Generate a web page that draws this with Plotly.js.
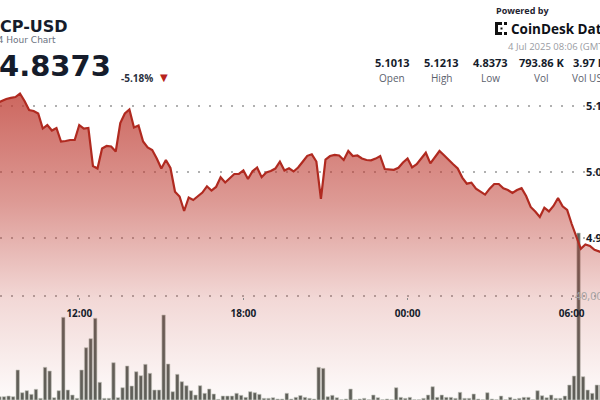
<!DOCTYPE html>
<html><head><meta charset="utf-8">
<script src="https://cdn.plot.ly/plotly-3.0.1.min.js"></script>
<style>html,body{margin:0;padding:0;overflow:hidden;background:#fff}#chart{width:600px;height:400px}</style>
</head><body><div id="chart"></div>
<script>
// ---- data ----
const START_UTC = Date.UTC(2025, 6, 3, 9, 0, 0); // first 10-minute point
const STEP_MIN = 10;
const price = [
 5.1045,5.1076,5.1106,5.1124,5.1136,5.1189,5.1076,5.0939,5.0924,5.0886,
 5.0659,5.0712,5.0629,5.0667,5.0462,5.0470,5.0485,5.0485,5.0712,5.0659,
 5.0667,5.0091,5.0053,5.0356,5.0394,5.0386,5.0311,5.0742,5.0886,5.0947,
 5.0674,5.0705,5.0462,5.0371,5.0333,5.0205,5.0053,5.0182,5.0061,4.9702,
 4.9629,4.9409,4.9614,4.9576,4.9629,4.9689,4.9783,4.9718,4.9773,4.9920,
 4.9841,4.9903,4.9970,4.9970,5.0023,4.9894,5.0011,5.0068,4.9921,4.9992,
 5.0015,5.0052,5.0156,5.0023,5.0055,5.0008,5.0068,5.0155,5.0245,5.0268,
 5.0159,4.9591,5.0189,5.0242,5.0258,5.0250,5.0182,5.0318,5.0242,5.0250,
 5.0205,5.0182,5.0176,5.0203,5.0242,5.0045,5.0035,5.0033,5.0064,5.0144,
 5.0205,5.0071,5.0117,5.0200,5.0292,5.0130,5.0227,5.0318,5.0253,5.0177,
 5.0117,5.0053,4.9915,4.9823,4.9838,4.9748,4.9697,4.9658,4.9747,4.9818,
 4.9818,4.9752,4.9727,4.9682,4.9727,4.9755,4.9636,4.9470,4.9402,4.9318,
 4.9459,4.9402,4.9485,4.9606,4.9480,4.9424,4.9212,4.9015,4.8836,4.8902,
 4.8879,4.8821,4.8795,4.8773
];
const volume = [
 1270,1270,1540,1270,11540,2810,3580,2190,4120,650,
 12580,11150,880,3580,31810,3850,1920,650,11540,20120,
 23580,31420,6810,650,650,14350,880,4730,13080,5380,
 10880,9350,13730,10270,3850,3850,32690,13850,3190,9880,
 7040,5500,3580,1920,5500,2580,4230,2310,270,1540,
 1540,1540,2580,1810,1040,3190,2810,2190,650,650,
 880,380,380,2580,380,1040,1730,1040,650,380,
 12580,12190,1270,1810,880,120,380,4230,120,380,
 650,120,1920,880,120,380,120,4730,1040,650,
 1040,120,120,650,1920,5120,1040,1920,1040,1040,
 650,2960,650,650,2310,380,120,2810,380,120,
 1540,120,1040,380,650,1040,1040,120,3580,1650,
 880,1920,650,650,1540,5770,9230,64230,8960,3850,
 2580,5770,5770,4620
];
const priceTicks = [4.9, 5.0, 5.1];
const volTicks = [40000];
const timeTicks = ['2025-07-03 12:00','2025-07-03 18:00','2025-07-04 00:00','2025-07-04 06:00'];
const timeTickText = ['12:00','18:00','00:00','06:00'];
const xRange = ['2025-07-03 09:06:11','2025-07-04 07:02:02'];
const statValues = ['5.1013','5.1213','4.8373','793.86 K','3.97 M'];
const statLabels = ['Open','High','Low','Vol','Vol USD'];
const pairName = 'ICP-USD';
const subTitle = '24 Hour Chart';
const lastPrice = '4.8373';
const changePct = '-5.18%';
const stamp = '4 Jul 2025 08:06 (GMT)';

// ---- helpers ----
const fmt = ms => new Date(ms).toISOString().slice(0,19).replace('T',' ');
const times = price.map((_, i) => fmt(START_UTC + i*STEP_MIN*60000));
const barTimes = volume.map((_, i) => fmt(START_UTC + (i*STEP_MIN + STEP_MIN/2)*60000));

const W = 600, H = 400, T = 85;
const px = x => x / W;
const py = y => (H - y) / (H - T);
const PMIN = 5.1 - 294/660, PMAX = 5.1 + 21/660;
const VMAX = 40000 * (H - T) / 104;

const DARK = '#151c2b';
const traces = [
 {type:'bar', x: barTimes, y: volume, yaxis:'y', xaxis:'x',
  marker:{color:'rgb(92,96,90)', line:{color:'rgba(200,204,198,0.9)', width:0.7}},
  hoverinfo:'skip'},
 {type:'scatter', mode:'lines', x: times, y: price, yaxis:'y2', xaxis:'x',
  line:{color:'#b02a20', width:2.2, shape:'linear'},
  fill:'tozeroy',
  fillgradient:{type:'vertical', start:PMIN, stop:PMAX,
    colorscale:[[0,'rgba(190,60,50,0.02)'],[0.32,'rgba(190,60,50,0.2)'],[0.63,'rgba(190,60,50,0.52)'],[1,'rgba(190,60,50,0.8)']]},
  hoverinfo:'skip'}
];

const ann = [];
function A(text, x, y, size, opts){ ann.push(Object.assign({text, xref:'paper', yref:'paper', x:px(x), y:py(y), xanchor:'left', yanchor:'middle', showarrow:false, font:{size, color:DARK, family:'Open Sans'}}, opts||{})); }
A(pairName, -8, 27, 16, {font:{family:'DejaVu Sans', size:16, weight:'bold', color:DARK}});
A(subTitle, -10, 40, 9, {font:{family:'DejaVu Sans', size:9, color:'#6b7280'}});
A(lastPrice, -3, 66, 29, {font:{family:'DejaVu Sans', size:29, weight:'bold', color:DARK}});
A(changePct, 119, 78, 10, {font:{family:'Open Sans', size:10, weight:'bold', color:'#2a3140'}});
A('▼', 158, 77, 10, {font:{family:'DejaVu Sans', size:10, color:'#b8231c'}});
A('Powered by', 494, 10.5, 9, {font:{family:'Open Sans', size:9, weight:'bold', color:'#1f2430'}});
A('CoinDesk Data', 509, 29, 13.5, {font:{family:'Open Sans', size:13.5, weight:'bold', color:'#0e1117'}});
A(stamp, 506, 47, 9.5, {font:{family:'Open Sans', size:9.5, color:'#9a9ca3'}});
const centers = [392, 441, 490, 541, 590];
statValues.forEach((v,k)=>{
  A(v, centers[k], 62, 11, {xanchor:'center', font:{family:'Open Sans', size:11, weight:'bold', color:DARK}});
  A(statLabels[k], centers[k], 77.5, 10, {xanchor:'center', font:{family:'Open Sans', size:10, color:'#5b616d'}});
});

// CoinDesk logo glyph
const logoRects = [[495,22,498,35],[495,22,502,25],[495,32,502,35],[504,22,507,25],[504,32,507,35],[500.5,27.5,502.5,29.5]];
const shapes = logoRects.map(r=>({type:'rect', xref:'paper', yref:'paper', x0:px(r[0]), x1:px(r[2]), y0:py(r[1]), y1:py(r[3]), fillcolor:'#111', line:{width:0}}));

const layout = {
 width:W, height:H, margin:{l:0, r:0, t:T, b:0, pad:0},
 paper_bgcolor:'#fff', plot_bgcolor:'#fff', showlegend:false, bargap:0.25,
 font:{family:'Open Sans'},
 xaxis:{type:'date', range:xRange, anchor:'free', position:py(297), showgrid:false, zeroline:false, showline:false,
   tickmode:'array', tickvals:timeTicks, ticktext:timeTickText, ticks:'outside', ticklen:2, tickwidth:1.5, tickcolor:'#8a8a8a',
   ticklabelstandoff:5, tickfont:{family:'Open Sans', size:10, weight:'bold', color:DARK}},
 yaxis:{range:[0, VMAX], side:'right', tickmode:'array', tickvals:volTicks, tickformat:',', ticklabelposition:'inside', ticklabelstandoff:-12,
   showgrid:true, gridcolor:'#b0b0b0', gridwidth:1.5, griddash:'1.5px,9.5px', zeroline:false, showline:false, ticks:'',
   tickfont:{family:'Open Sans', size:11, color:'#a3a3a3'}},
 yaxis2:{overlaying:'y', range:[PMIN, PMAX], side:'right', tickmode:'array', tickvals:priceTicks, tickformat:'.2f', ticklabelposition:'inside', ticklabelstandoff:-11,
   showgrid:true, gridcolor:'#b0b0b0', gridwidth:1.5, griddash:'1.5px,9.5px', zeroline:false, showline:false, ticks:'',
   tickfont:{family:'Open Sans', size:11, weight:'bold', color:DARK}},
 annotations: ann, shapes: shapes
};
Plotly.newPlot('chart', traces, layout, {displayModeBar:false, staticPlot:true});
</script></body></html>
